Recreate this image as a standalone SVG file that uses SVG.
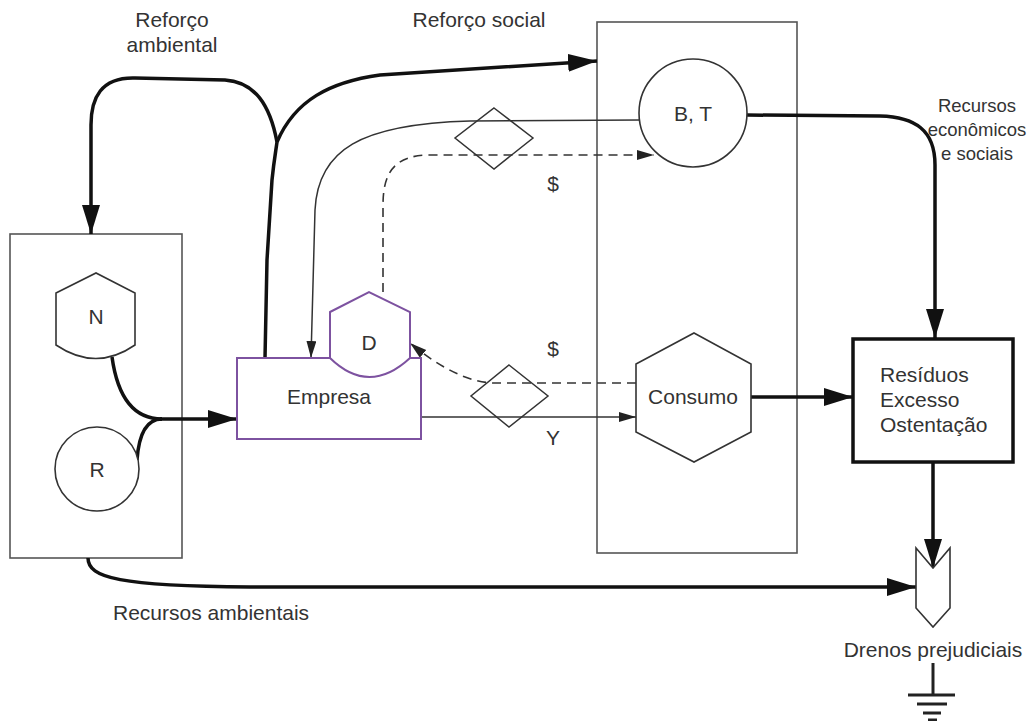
<svg xmlns="http://www.w3.org/2000/svg" width="1032" height="721" viewBox="0 0 1032 721">
<style>
text{font-family:"Liberation Sans",Arial,sans-serif;font-size:21px;fill:#333}
.small{font-size:18.5px}
.box{fill:none;stroke:#555;stroke-width:1.6}
.node{fill:#fff;stroke:#333;stroke-width:1.6}
.purple{fill:#fff;stroke:#7d52a0;stroke-width:2}
.thick{fill:none;stroke:#111;stroke-width:3.5}
.thin{fill:none;stroke:#333;stroke-width:1.5}
.dash{fill:none;stroke:#333;stroke-width:1.6;stroke-dasharray:9 6}
</style>
<defs>
<marker id="big" markerUnits="userSpaceOnUse" markerWidth="30" markerHeight="20" refX="29" refY="9" orient="auto">
<path d="M0,0 L29,9 L0,18 Z" fill="#111"/>
</marker>
<marker id="small" markerUnits="userSpaceOnUse" markerWidth="18" markerHeight="12" refX="17" refY="5" orient="auto">
<path d="M0,0 L17,5 L0,10 Z" fill="#222"/>
</marker>
</defs>
<rect width="1032" height="721" fill="#fff"/>

<g id="env-box"><rect class="box" x="10" y="234" width="172" height="324"/></g>
<g id="social-box"><rect class="box" x="597" y="22" width="200" height="531"/></g>

<g id="connectors">
<path class="thick" d="M265,358 L267,260 L272,180 C274,160 276,150 277,142"/>
<path class="thick" d="M277,142 C270,105 255,82 225,80 L135,78 C101,77 91,98 91,125 L91,234" marker-end="url(#big)"/>
<path class="thick" d="M277,142 C295,100 330,82 380,75 L597,61" marker-end="url(#big)"/>
<path class="thin" d="M640,120 L470,121 C360,124 318,150 315,210 L311,358" marker-end="url(#small)"/>
<path class="dash" d="M383,292 L383,205 C383,172 395,155 430,155 L654,155" marker-end="url(#small)"/>
<path class="thick" d="M112,357 C118,400 135,419 162,419"/>
<path class="thick" d="M137,460 C139,432 148,419 162,419"/>
<path class="thick" d="M160,419 L237,419" marker-end="url(#big)"/>
<path class="thin" d="M421,417 L636,417" marker-end="url(#small)"/>
<path class="dash" d="M636,383 L495,383 C470,383 440,368 410,343" marker-end="url(#small)"/>
<path class="thick" d="M751,397 L853,397" marker-end="url(#big)"/>
<path class="thick" d="M747,115 L880,116 C915,117 935,130 935,165 L935,338" marker-end="url(#big)"/>
<path class="thick" d="M933,462 L933,568" marker-end="url(#big)"/>
<path class="thick" d="M88,558 C88,578 120,586 250,587 L916,587" marker-end="url(#big)"/>
</g>

<g id="diamond-top"><path class="thin" d="M494,108 L533,138 L494,169 L455,138 Z"/></g>
<g id="diamond-bottom"><path class="thin" d="M509,365 L548,396 L509,427 L471,396 Z"/></g>

<g id="N"><path class="node" d="M56,293 L96,273 L135,293 L135,345 Q96,372 56,345 Z"/><text x="96" y="324" text-anchor="middle">N</text></g>
<g id="R"><circle class="node" cx="97" cy="469" r="42"/><text x="97" y="477" text-anchor="middle">R</text></g>
<g id="Empresa"><rect class="purple" x="237" y="358" width="184" height="81"/><text x="329" y="404" text-anchor="middle">Empresa</text></g>
<g id="D"><path class="purple" d="M330,312 L369,292 L410,312 L410,358 Q369,396 330,358 Z"/><text x="369" y="350" text-anchor="middle">D</text></g>
<g id="BT"><circle class="node" cx="693" cy="113" r="54"/><text x="693" y="121" text-anchor="middle">B, T</text></g>
<g id="Consumo"><path class="node" d="M694,333 L751,364 L751,432 L694,462 L636,432 L636,364 Z"/><text x="693" y="404" text-anchor="middle">Consumo</text></g>
<g id="Residuos"><rect fill="#fff" stroke="#111" stroke-width="3.5" x="853" y="339" width="160" height="123"/>
<text x="880" y="382">Resíduos</text><text x="880" y="407">Excesso</text><text x="880" y="432">Ostentação</text></g>
<g id="Drenos"><path class="node" d="M916,548 L933,568 L950,548 L950,608 L933,627 L916,608 Z"/>
<text x="933" y="657" text-anchor="middle">Drenos prejudiciais</text>
<g stroke="#222" stroke-width="3"><line x1="933" y1="663" x2="933" y2="695"/><line x1="908" y1="695" x2="955" y2="695"/><line x1="917" y1="704" x2="947" y2="704"/><line x1="923" y1="713" x2="941" y2="713"/><line x1="928" y1="720" x2="937" y2="720"/></g></g>

<g id="labels">
<text x="172" y="27" text-anchor="middle">Reforço</text>
<text x="172" y="52" text-anchor="middle">ambiental</text>
<text x="479" y="27" text-anchor="middle">Reforço social</text>
<text class="small" x="977" y="112" text-anchor="middle">Recursos</text>
<text class="small" x="977" y="136" text-anchor="middle">econômicos</text>
<text class="small" x="977" y="160" text-anchor="middle">e sociais</text>
<text x="553" y="191" text-anchor="middle">$</text>
<text x="553" y="356" text-anchor="middle">$</text>
<text x="553" y="445" text-anchor="middle">Y</text>
<text x="113" y="620">Recursos ambientais</text>
</g>
</svg>
